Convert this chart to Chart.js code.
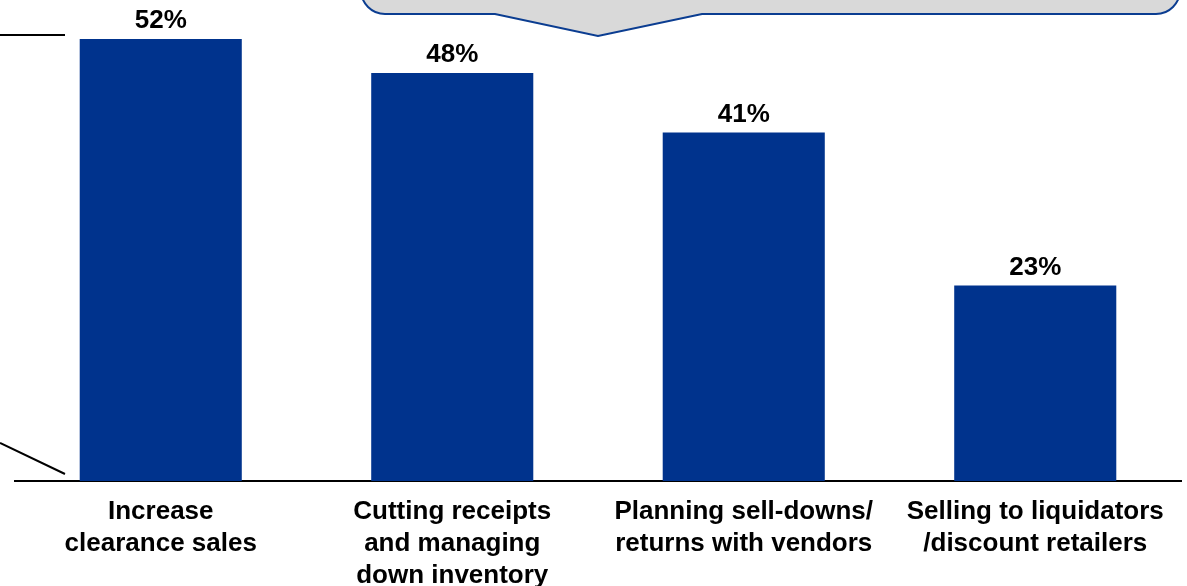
<!DOCTYPE html>
<html>
<head>
<meta charset="utf-8">
<script src="https://cdn.jsdelivr.net/npm/chart.js@4/dist/chart.umd.min.js"></script>
<style>
    html, body { margin: 0; padding: 0; background: #fff; }
    #wrap { width: 1187px; height: 586px; position: relative; }
</style>
</head>
<body>
<div id="wrap"><canvas id="actionsChart"></canvas></div>
<script>
const categories = [
    ['Increase', 'clearance sales'],
    ['Cutting receipts', 'and managing', 'down inventory'],
    ['Planning sell-downs/', 'returns with vendors'],
    ['Selling to liquidators', '/discount retailers']
];
const shares = [52, 48, 41, 23];
const yMax = 56.6;

const BAR_BLUE = '#00338D';
const FONT = '"Liberation Sans", Arial, sans-serif';

// callout box hanging from the top edge plus the two leader lines on the left
const decorations = {
    id: 'decorations',
    beforeDraw(chart) {
        const c = chart.ctx;
        c.save();
        c.strokeStyle = '#000';
        c.lineWidth = 2;
        c.beginPath();
        c.moveTo(0, 35);
        c.lineTo(65, 35);
        c.moveTo(0, 443);
        c.lineTo(65, 474);
        c.stroke();

        const left = 361, right = 1180, bottom = 14, top = -40, r = 24;
        c.beginPath();
        c.moveTo(left, top);
        c.lineTo(left, bottom - r);
        c.arcTo(left, bottom, left + r, bottom, r);
        c.lineTo(495, bottom);
        c.lineTo(598, 36);
        c.lineTo(702, bottom);
        c.lineTo(right - r, bottom);
        c.arcTo(right, bottom, right, bottom - r, r);
        c.lineTo(right, top);
        c.closePath();
        c.fillStyle = '#D9D9D9';
        c.fill();
        c.strokeStyle = '#0B3D91';
        c.lineWidth = 2;
        c.stroke();
        c.restore();
    }
};

// percentage above each bar
const valueLabels = {
    id: 'valueLabels',
    afterDatasetsDraw(chart) {
        const c = chart.ctx;
        const meta = chart.getDatasetMeta(0);
        c.save();
        c.fillStyle = '#000';
        c.font = 'bold 26px ' + FONT;
        c.textAlign = 'center';
        c.textBaseline = 'alphabetic';
        meta.data.forEach((bar, i) => {
            c.fillText(shares[i] + '%', bar.x, bar.y - 11);
        });
        c.restore();
    }
};

new Chart(document.getElementById('actionsChart'), {
    type: 'bar',
    data: {
        labels: categories,
        datasets: [{
            data: shares,
            backgroundColor: BAR_BLUE,
            borderWidth: 0,
            barPercentage: 0.556,
            categoryPercentage: 1
        }]
    },
    options: {
        responsive: true,
        maintainAspectRatio: false,
        animation: false,
        layout: {
            padding: { left: 15, right: 6, top: 0, bottom: 0 }
        },
        plugins: {
            legend: { display: false },
            tooltip: { enabled: false }
        },
        scales: {
            x: {
                grid: { display: false, drawTicks: false },
                border: { display: true, color: '#000', width: 2 },
                ticks: {
                    color: '#000',
                    padding: 15,
                    maxRotation: 0,
                    autoSkip: false,
                    font: { family: FONT, size: 26, weight: 'bold', lineHeight: 1.23 }
                },
                afterFit(scale) {
                    scale.height = 105;
                }
            },
            y: {
                display: false,
                min: 0,
                max: yMax
            }
        }
    },
    plugins: [decorations, valueLabels]
});
</script>
</body>
</html>
